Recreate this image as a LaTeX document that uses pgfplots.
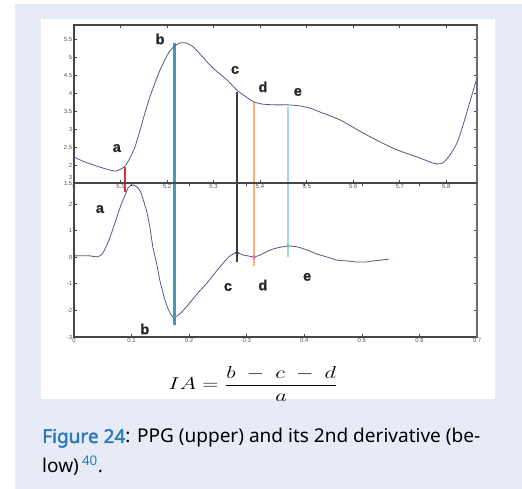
\documentclass[border=0pt]{standalone}
\usepackage{amsmath}
\usepackage{pgfplots}
\pgfplotsset{compat=1.18}
\usepackage{fontspec}
\setmainfont{Noto Sans}
\newfontfamily\capboldfont{Noto Sans}[FakeBold=2.2]
\newfontfamily\arialfont{Liberation Sans}
\newfontfamily\lblfont{Liberation Sans Bold}[FakeBold=1.2]

\definecolor{panelbg}{RGB}{231,235,246}
\definecolor{ppgline}{RGB}{92,86,140}
\definecolor{tickgray}{RGB}{85,85,85}
\definecolor{framegray}{RGB}{70,70,70}
\definecolor{markA}{RGB}{220,50,50}
\definecolor{markB}{RGB}{66,155,180}
\definecolor{markC}{RGB}{60,60,60}
\definecolor{markD}{RGB}{242,180,120}
\definecolor{markE}{RGB}{170,215,225}
\definecolor{dotD}{RGB}{225,110,200}
\definecolor{dotE}{RGB}{120,200,160}
\definecolor{capblue}{RGB}{43,123,186}

\newcommand\tickfont{\arialfont\fontsize{6}{6.5}\selectfont}
\newcommand\numsize[1]{\hbox{\fontsize{16}{18}\selectfont$#1$}}

\pgfplotsset{
  ppgaxis/.style={
    scale only axis, width=403bp,
    axis lines=box,
    axis line style={framegray, line width=1.2bp},
    xtick pos=both, ytick pos=both,
    tick align=inside, major tick length=3bp,
    tick style={framegray, line width=0.7bp},
    ticklabel style={font=\tickfont, text=tickgray},
    xticklabel pos=lower, yticklabel pos=left,
    /pgf/number format/assume math mode=true,
    xticklabel style={inner sep=1.5bp},
    yticklabel style={inner sep=1.5bp},
    clip=false,
  },
}
\tikzset{lbl/.style={font=\lblfont\fontsize{14.5}{16}\selectfont, text=black!85}}

\begin{document}
\begin{tikzpicture}[x=1bp,y=1bp]
\useasboundingbox (0,0) rectangle (522,489);
\fill[white] (0,0) rectangle (522,489);
\fill[panelbg] (15,0) rectangle (522,485);
\fill[white] (41,90) rectangle (495,470);

% second derivative of the pulse wave
\begin{axis}[ppgaxis, at={(74bp,152bp)}, anchor=south west, height=154bp,
  xmin=0, xmax=0.7, ymin=-3, ymax=2.79,
  xtick={0,0.1,0.2,0.3,0.4,0.5,0.6,0.7},
  xticklabels={0,0.1,0.2,0.3,0.4,0.5,0.6,0.7},
  ytick={-3,-2,-1,0,1,2},
  yticklabels={-3,-2,-1,0,1,2}]
\draw[framegray, line width=1.2bp] (rel axis cs:0,0) rectangle (rel axis cs:1,1);
\draw[framegray!80, line width=1.8bp] (rel axis cs:1,0) -- (rel axis cs:1,1);
\addplot[ppgline, line width=0.8bp, smooth, tension=0.4] coordinates {
 (0.0017,0.05) (0.028,0.05) (0.040,0.01) (0.049,0.12) (0.057,0.46)
 (0.064,0.83) (0.071,1.29) (0.078,1.74) (0.083,2.04) (0.089,2.34)
 (0.094,2.60) (0.099,2.71) (0.104,2.71) (0.109,2.64) (0.115,2.49)
 (0.122,2.04) (0.127,1.66) (0.132,1.10) (0.137,0.38) (0.144,-0.29)
 (0.149,-0.86) (0.156,-1.46) (0.162,-1.87) (0.167,-2.10) (0.172,-2.25)
 (0.179,-2.21) (0.189,-2.02) (0.201,-1.72) (0.215,-1.35) (0.231,-0.97)
 (0.245,-0.59) (0.259,-0.22) (0.271,0.05) (0.280,0.16) (0.285,0.16)
 (0.294,0.08) (0.302,0.05) (0.3127,0.01) (0.323,0.08) (0.334,0.20)
 (0.346,0.31) (0.360,0.38) (0.375,0.42) (0.389,0.38) (0.405,0.27)
 (0.422,0.12) (0.439,0.01) (0.457,-0.11) (0.474,-0.14) (0.491,-0.18)
 (0.507,-0.18) (0.519,-0.14) (0.533,-0.11) (0.547,-0.07)};
% markers joining the features of both curves
\addplot[markA, line width=2.6bp] coordinates {(0.0886,2.45) (0.0886,3.39)};
\addplot[markB, line width=3bp] coordinates {(0.1754,-2.55) (0.1754,8.05)};
\addplot[markC, line width=1.1bp] coordinates {(0.2831,-0.18) (0.2831,6.21)};
\addplot[markD, line width=2.2bp] coordinates {(0.3127,-0.33) (0.3127,5.83)};
\addplot[markE, line width=1.8bp] coordinates {(0.3717,0.01) (0.3717,5.65)};
\addplot[only marks, mark=*, mark size=1.6bp, markC] coordinates {(0.283,0.16)};
\addplot[only marks, mark=*, mark size=1.8bp, dotD] coordinates {(0.3127,0.01)};
\addplot[only marks, mark=*, mark size=1.8bp, dotE] coordinates {(0.3717,0.42)};
\node[anchor=east, font=\tickfont, text=tickgray, inner sep=1.5bp] at (axis cs:0,2.79) [yshift=6bp] {3};
\node[lbl] at (axis cs:0.045,1.81) {a};
\node[lbl] at (axis cs:0.123,-2.70) {b};
\node[lbl] at (axis cs:0.2675,-1.12) {c};
\node[lbl] at (axis cs:0.328,-1.05) {d};
\node[lbl] at (axis cs:0.405,-0.74) {e};
\end{axis}

% photoplethysmogram
\begin{axis}[ppgaxis, at={(74bp,306bp)}, anchor=south west, height=158bp,
  xmin=5, xmax=5.866, ymin=1.5, ymax=5.889,
  xtick={5,5.1,5.2,5.3,5.4,5.5,5.6,5.7,5.8},
  xticklabels={5,5.1,5.2,5.3,5.4,5.5,5.6,5.7,5.8},
  ytick={1.5,2,2.5,3,3.5,4,4.5,5,5.5},
  yticklabels={1.5,2,2.5,3,3.5,4,4.5,5,5.5}]
\draw[framegray, line width=1.2bp] (rel axis cs:0,0) rectangle (rel axis cs:1,1);
\draw[framegray!80, line width=1.8bp] (rel axis cs:1,0) -- (rel axis cs:1,1);
\addplot[ppgline, line width=0.8bp, smooth, tension=0.4] coordinates {
 (5.000,2.22) (5.024,2.08) (5.056,1.94) (5.077,1.86) (5.090,1.83)
 (5.101,1.89) (5.110,1.97) (5.120,2.19) (5.131,2.50) (5.142,2.97)
 (5.153,3.47) (5.163,3.89) (5.174,4.28) (5.185,4.64) (5.196,4.94)
 (5.206,5.17) (5.217,5.31) (5.228,5.39) (5.241,5.39) (5.256,5.28)
 (5.271,5.08) (5.286,4.86) (5.303,4.64) (5.329,4.36) (5.350,4.08)
 (5.370,3.89) (5.387,3.75) (5.406,3.69) (5.432,3.67) (5.460,3.67)
 (5.486,3.64) (5.507,3.58) (5.529,3.47) (5.572,3.25) (5.621,2.89)
 (5.658,2.64) (5.694,2.42) (5.744,2.19) (5.765,2.08) (5.780,2.03)
 (5.793,2.06) (5.808,2.28) (5.823,2.61) (5.836,3.11) (5.852,3.81)
 (5.866,4.42)};
\node[lbl] at (axis cs:5.092,2.47) {a};
\node[lbl] at (axis cs:5.185,5.50) {b};
\node[lbl] at (axis cs:5.346,4.64) {c};
\node[lbl] at (axis cs:5.406,4.17) {d};
\node[lbl] at (axis cs:5.481,4.03) {e};
\end{axis}

% augmentation index
\node at (253,105) {\scalebox{1.3}[1]{\fontsize{17}{20}\selectfont
  $IA = \dfrac{\numsize{b \mskip5mu - \mskip5mu c \mskip5mu - \mskip5mu d}}{\numsize{a}}$}};

% caption
\node[anchor=base west, inner sep=0pt] at (42,46) {\fontsize{19.1}{23}\selectfont
  \textcolor{capblue}{\capboldfont Figure 24}: PPG (upper) and its 2nd derivative (be-};
\node[anchor=base west, inner sep=0pt] at (42,16) {\fontsize{19.1}{23}\selectfont
  low)\,\textsuperscript{\textcolor{capblue}{40}}.};
\end{tikzpicture}
\end{document}
